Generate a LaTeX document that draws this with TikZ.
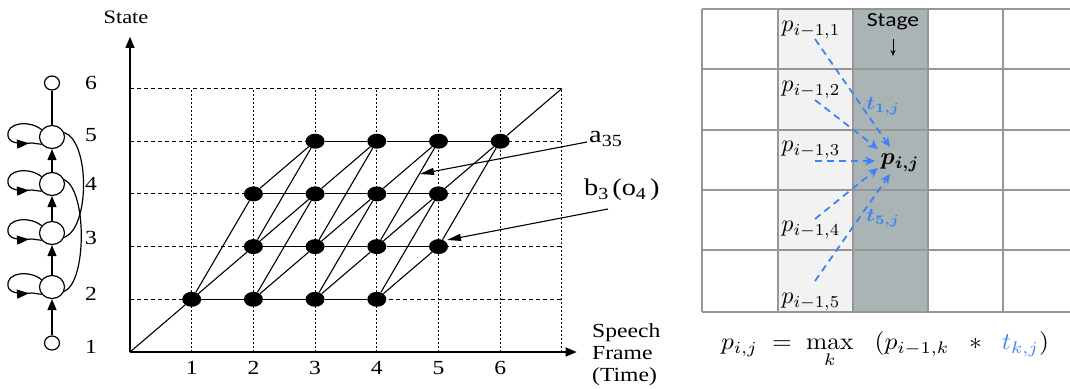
\documentclass[tikz,border=0pt]{standalone}
\usepackage{amsmath,bm}
\usepackage{fontspec}
\usepackage{graphicx}
\usetikzlibrary{arrows.meta,decorations.markings,shapes.geometric}
\newfontfamily\chartfont[FakeStretch=1.18]{Liberation Serif}
\newfontfamily\stagefont[FakeStretch=1.18]{Carlito}
\newcommand\msc[1]{\scalebox{2.35}[2.4]{$#1$}}
\newcommand\fsc[1]{\scalebox{2.55}[2.4]{$#1$}}
\newcommand\tsc[1]{\scalebox{2.1}[1.9]{$#1$}}
\newcommand\sbs[1]{\raisebox{-0.35ex}{\fontsize{17}{20}\selectfont #1}}
\definecolor{tblue}{RGB}{60,132,245}
\definecolor{darkcol}{RGB}{170,180,180}
\definecolor{lightcol}{RGB}{242,242,242}
\definecolor{gridgray}{RGB}{150,150,150}
\begin{document}
\begin{tikzpicture}[x=1pt,y=-1pt,
  ln/.style={line width=1.2pt},
  bigc/.style={ellipse,draw,line width=1.2pt,minimum width=25pt,minimum height=23pt,inner sep=0pt},
  smallc/.style={ellipse,draw,line width=1.2pt,minimum width=15pt,minimum height=14pt,inner sep=0pt},
  uparr/.style={ln,-{Triangle[length=11pt,width=9pt]}},
  selfloop/.style={ln,postaction={decorate},decoration={markings,mark=at position 0.84 with {\arrow{Triangle[length=12pt,width=9pt]}}}},
  lbl/.style={font=\chartfont\fontsize{20}{24}\selectfont,inner sep=0pt},
  dot/.style={ellipse,fill=black,minimum width=19pt,minimum height=15pt,inner sep=0pt},
  edge/.style={line width=1.1pt},
  hdash/.style={line width=1.1pt,dash pattern=on 4pt off 3pt},
  vdash/.style={line width=1.1pt,dash pattern=on 2pt off 2pt},
  axis/.style={line width=1.2pt,-{Triangle[length=11pt,width=9pt]}},
  ann/.style={line width=1.1pt,-{Triangle[length=14pt,width=7pt]}},
  gl/.style={line width=1.4pt,gridgray},
  mth/.style={font=\normalsize,inner sep=1pt},
  tmth/.style={font=\normalsize,inner sep=1pt,text=tblue},
  bluearr/.style={tblue,line width=1.8pt,dash pattern=on 7pt off 5pt,-{Stealth[length=10pt,width=9pt]}}
]
\useasboundingbox (0,0) rectangle (1070,388);

% ---------------- left HMM chain
\node[smallc] (h6) at (52,83) {};
\node[bigc] (h5) at (52,137) {};
\node[bigc] (h4) at (52,184) {};
\node[bigc] (h3) at (52,233) {};
\node[bigc] (h2) at (52,287) {};
\node[smallc] (h1) at (52,343) {};
\draw[ln] (h5) -- (h6);
\draw[uparr] (h1) -- (h2);
\draw[uparr] (h2) -- (h3);
\draw[uparr] (h3) -- (h4);
\draw[uparr] (h4) -- (h5);
\foreach \k in {2,3,4,5}{
  \begin{scope}[shift={(h\k.center)}]
    \draw[selfloop] (h\k.145) .. controls (-22,-17) and (-46,-15) .. (-44,-1)
      .. controls (-43,7) and (-30,7) .. (-20,6) -- (h\k.215);
  \end{scope}
}
\draw[ln] (h5.20) .. controls (90,141) and (90,228) .. (h3.-20);
\draw[ln] (h4.20) .. controls (87,190) and (87,282) .. (h2.-20);
\foreach \k/\y in {6/83,5/135,4/184,3/238,2/294,1/347}
  \node[lbl] (n\k) at (91,\y) {\k};

% ---------------- trellis
\node[font=\chartfont\fontsize{19}{22}\selectfont,inner sep=0pt] (state) at (126,17) {State};
\begin{scope}[shift={(130,352)},x=61.7pt,y=52.7pt]
  \foreach \j in {1,...,5} \draw[hdash] (0,\j) -- (7,\j);
  \foreach \i in {1,...,7} \draw[vdash] (\i,0) -- (\i,5);
  \coordinate (o) at (0,0);
  \coordinate (e) at (7,5);
  \coordinate (xend) at (7.24,0);
  \coordinate (yend) at (0,5.98);
  \draw[axis] (o) -- (xend);
  \draw[axis] (o) -- (yend);
  \foreach \t/\s in {1/1,2/1,3/1,4/1,2/2,3/2,4/2,5/2,2/3,3/3,4/3,5/3,3/4,4/4,5/4,6/4}
    \node[dot] (d\t\s) at (\t,\s) {};
  \foreach \a/\b in {11/21,11/22,11/23,21/31,21/32,21/33,22/32,22/33,22/34,23/33,23/34,
     31/41,31/42,31/43,32/42,32/43,32/44,33/43,33/44,34/44,
     41/52,41/53,42/52,42/53,42/54,43/53,43/54,44/54,52/64,53/64,54/64}
    \draw[edge] (d\a) -- (d\b);
  \draw[edge] (o) -- (d11);
  \draw[edge] (d64) -- (e);
  \foreach \i in {1,...,6} \node[lbl] (t\i) at (\i,-0.31) {\i};
\end{scope}
\node[inner sep=0pt,anchor=west,font=\chartfont\fontsize{24}{28}\selectfont] (a35) at (589,139) {a\sbs{35}};
\coordinate (a35tip) at (420,174);
\draw[ann] (a35.west) ++(-2,3) coordinate (a35s) -- (a35tip);
\node[inner sep=0pt,anchor=west,font=\chartfont\fontsize{24}{28}\selectfont] (b3) at (584,190) {b\sbs{3}\,(o\sbs{4}\,)};
\coordinate (b3s) at (608,209);
\coordinate (b3tip) at (447,240);
\draw[ann] (b3s) -- (b3tip);
\node[anchor=north west,inner sep=0pt,align=left,font=\chartfont\fontsize{20}{22}\selectfont] (sf) at (592,323) {Speech\\Frame\\(Time)};

% ---------------- right grid
\fill[lightcol] (778,9) rectangle (853,312);
\fill[darkcol] (853,9) rectangle (928,312);
\foreach \x in {702,778,853,928,1003} \draw[gl] (\x,9) -- (\x,312);
\foreach \y in {9,69,130,190,250,312} \draw[gl] (702,\y) -- (1070,\y);
\node[inner sep=0pt,font=\stagefont\fontsize{20}{24}\selectfont] (stage) at (893,22) {Stage};
\coordinate (stA) at (893,39);
\coordinate (stB) at (893,56);
\draw[line width=0.9pt,-{Stealth[length=6pt,width=5pt]}] (stA) -- (stB);
\node[mth] (q1) at (811,30) {\msc{p_{i-1,1}}};
\node[mth] (q2) at (811,90) {\msc{p_{i-1,2}}};
\node[mth] (q3) at (811,150) {\msc{p_{i-1,3}}};
\node[mth] (q4) at (811,230) {\msc{p_{i-1,4}}};
\node[mth] (q5) at (811,302) {\msc{p_{i-1,5}}};
\node[mth] (pij) at (900,163) {\msc{\bm{p_{i,j}}}};
\node[tmth] (t1) at (883,106) {\tsc{\bm{t_{1,j}}}};
\node[tmth] (t5) at (883,218) {\tsc{\bm{t_{5,j}}}};
\coordinate (s1) at (815,39);  \coordinate (e1) at (890,147);
\coordinate (s2) at (815,100); \coordinate (e2) at (878,149);
\coordinate (s3) at (815,161); \coordinate (e3) at (875,161);
\coordinate (s4) at (815,219); \coordinate (e4) at (878,168);
\coordinate (s5) at (815,281); \coordinate (e5) at (890,174);
\foreach \k in {1,...,5} \draw[bluearr] (s\k) -- (e\k);
\node[mth] (formula) at (885,350) {\fsc{p_{i,j} \;=\; \max\limits_{k}\;\;\; (p_{i-1,k} \;\;*\;\; \textcolor{tblue}{t_{k,j}})}};
\end{tikzpicture}
\end{document}
